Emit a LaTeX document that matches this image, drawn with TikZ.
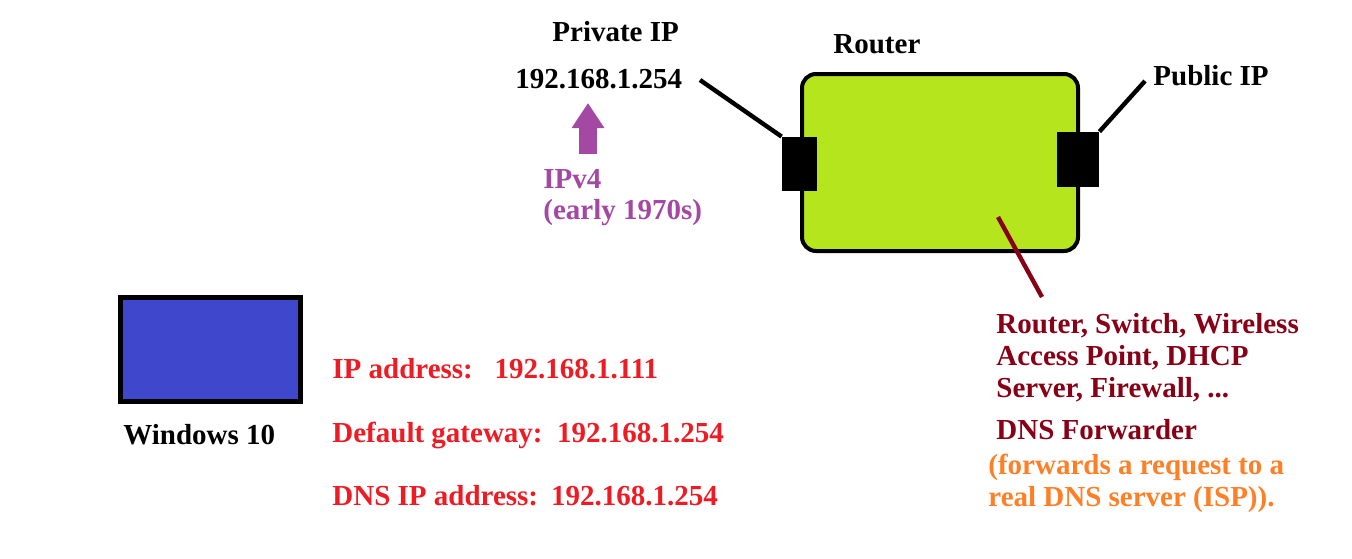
\documentclass[tikz,border=0pt]{standalone}
\usepackage{fontspec}
\setmainfont{Liberation Serif}
\usetikzlibrary{arrows.meta}
\definecolor{routergruen}{HTML}{B5E61D}
\definecolor{pcblau}{HTML}{3F48CC}
\definecolor{lila}{HTML}{A349A4}
\definecolor{hellrot}{HTML}{ED1C24}
\definecolor{dunkelrot}{HTML}{880015}
\definecolor{orangeton}{HTML}{FF7F27}
\tikzset{kasten/.style={rectangle,draw=black,inner sep=0pt},
         anschluss/.style={rectangle,fill=black,inner sep=0pt},
         schrift/.style={inner sep=0pt,anchor=base west,font=\bfseries\fontsize{14.5}{16}\selectfont},
         block/.style={inner sep=0pt,anchor=north west,align=left,font=\bfseries\fontsize{14.5}{16}\selectfont},
         leitung/.style={line width=2.2pt}}

\begin{document}
\begin{tikzpicture}[x=0.5pt,y=-0.5pt]
    \useasboundingbox (0,0) rectangle (1352,558);
    \path node [kasten, fill=routergruen, line width=2pt, rounded corners=7pt,
                minimum width=138pt, minimum height=88.5pt] (router) at (940,162.5) {}
          node [anschluss, minimum width=17.5pt, minimum height=27pt] (links) at (799.5,164) {}
          node [anschluss, minimum width=21pt, minimum height=27.5pt] (rechts) at (1078,159.5) {}
          node [kasten, fill=pcblau, line width=2.5pt,
                minimum width=90pt, minimum height=52pt] (pc) at (210.5,349.5) {}

          node [schrift] (privat) at (552,41) {Private IP}
          node [schrift] (privatip) at (515,88) {192.168.1.254}
          node [schrift] (routername) at (833,53) {Router}
          node [schrift] (public) at (1153,85) {Public IP}
          node [schrift, text=lila] (ipv) at (543,188) {IPv4}
          node [schrift, text=lila] (jahr) at (543,219) {(early 1970s)}
          node [schrift] (windows) at (123,444) {Windows 10}
          node [schrift, text=hellrot] (adresse) at (332,378) {IP address:\hspace{0.75em}192.168.1.111}
          node [schrift, text=hellrot] (gateway) at (332,442) {Default gateway:\hspace{0.5em}192.168.1.254}
          node [schrift, text=hellrot] (dns) at (332,505) {DNS IP address:\hspace{0.45em}192.168.1.254}
          node [block, text=dunkelrot] (funktionen) at (996,313) {Router, Switch, Wireless\\Access Point, DHCP\\Server, Firewall, ...}
          node [schrift, text=dunkelrot] (forwarder) at (996,439) {DNS Forwarder}
          node [block, text=orangeton] (erklaerung) at (988,454) {(forwards a request to a\\real DNS server (ISP)).};

    \coordinate (ipende) at (700,80);
    \coordinate (pubende) at (1145,81);
    \coordinate (rot1) at (998,217);
    \coordinate (rot2) at (1042,297);
    \coordinate (pfeilfuss) at (588,154);
    \coordinate (pfeilspitze) at (588,103);

    \draw [leitung] (ipende) -- (links.north west);
    \draw [leitung] (rechts.north east) -- (pubende);
    \draw [leitung, draw=dunkelrot] (rot1) -- (rot2);
    \draw [lila, line width=9pt, -{Triangle[width=15.5pt,length=12.5pt]}] (pfeilfuss) -- (pfeilspitze);
\end{tikzpicture}
\end{document}
